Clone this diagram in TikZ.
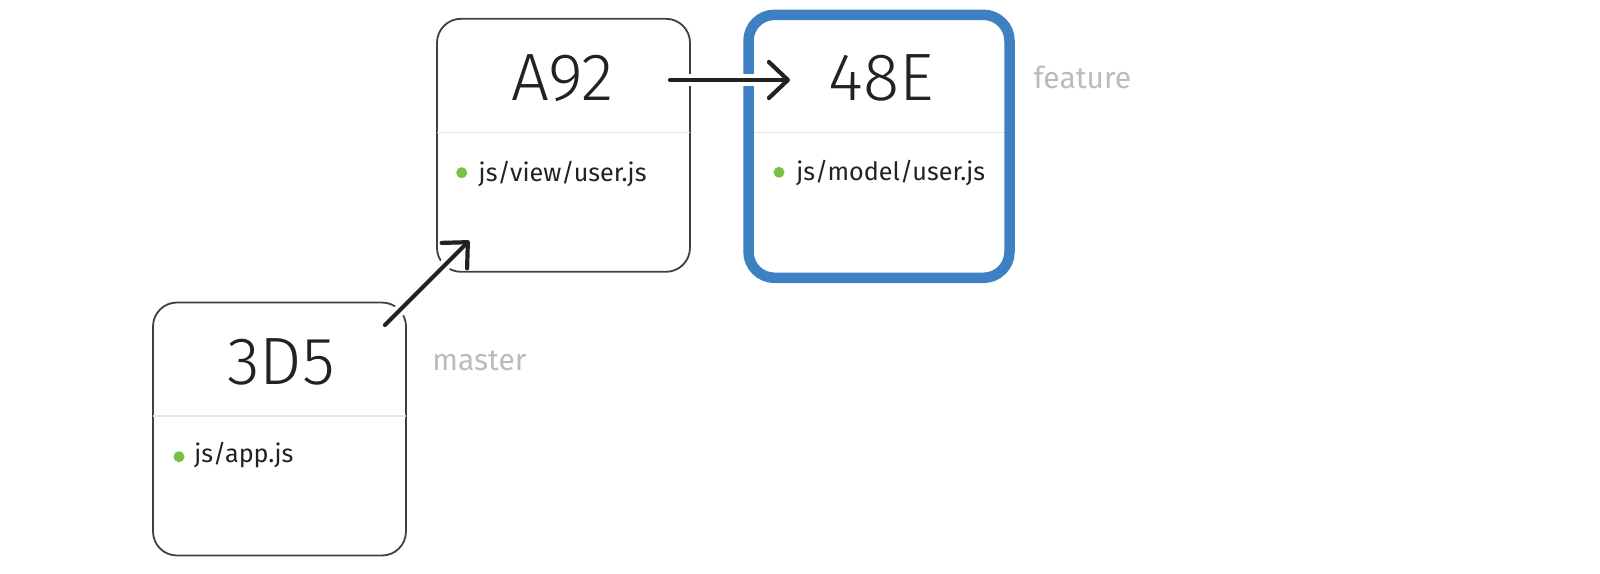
\documentclass[tikz,border=0pt]{standalone}
\usepackage{fontspec}
\setmainfont{Fira Sans}
\newfontfamily\hashfont{Fira Sans Light}
\usetikzlibrary{calc,arrows.meta}
\definecolor{edgegray}{HTML}{404040}
\definecolor{rulegray}{HTML}{E6E6E6}
\definecolor{headblue}{HTML}{3E81C2}
\definecolor{dotgreen}{HTML}{7AC143}
\definecolor{inkblack}{HTML}{222222}
\definecolor{refgray}{HTML}{BBBBBB}
\tikzset{
  commit/.style={draw=edgegray, line width=0.9pt, rounded corners=12pt,
    minimum width=126.5pt, minimum height=126.5pt, inner sep=0pt, fill=white},
  head/.style={commit, draw=headblue, line width=5.25pt, rounded corners=13pt,
    minimum width=130.5pt, minimum height=131.5pt},
  hash/.style={inner sep=0pt, text=inkblack, font=\hashfont\fontsize{33.5}{40}\selectfont},
  file/.style={anchor=base west, inner sep=0pt, text=inkblack, font=\fontsize{12.6}{15}\selectfont},
  dot/.style={circle, fill=dotgreen, inner sep=0pt, minimum size=5.5pt},
  divider/.style={draw=rulegray, line width=0.8pt},
  ref/.style={anchor=base west, inner sep=0pt, text=refgray, font=\fontsize{15}{18}\selectfont},
  halo/.style={draw=white, line width=6pt},
  link/.style={draw=inkblack, line width=2.1pt, line cap=round, line join=round,
    -{Straight Barb[length=9.5pt, width=18pt, line cap=round, line join=round]}}
}
\begin{document}
\begin{tikzpicture}[x=0.5pt, y=-0.5pt]
    \useasboundingbox (0,0) rectangle (1600,573);

    % commits
    \node (c3d5) [commit] at (279.5, 429) {};
    \node (ca92) [commit] at (563.5, 145.3) {};
    \node (c48e) [head] at (879, 146.3) {};

    \draw[divider] ($(c3d5.west)+(1,-13)$) -- ($(c3d5.east)+(-1,-13)$);
    \draw[divider] ($(ca92.west)+(1,-13)$) -- ($(ca92.east)+(-1,-13)$);
    \draw[divider] ($(c48e.west)+(10.5,-14)$) -- ($(c48e.east)+(-10.5,-14)$);

    \node (h3d5) [hash] at ($(c3d5)+(1.5,-67.5)$) {3D5};
    \node (ha92) [hash] at ($(ca92)+(-1,-67)$) {A92};
    \node (h48e) [hash] at ($(c48e)+(2.5,-68)$) {48E};

    \node (d3d5) [dot] at ($(c3d5)+(-100.5,27.7)$) {};
    \node (f3d5) [file] at ($(c3d5)+(-85.5,33.7)$) {js/app.js};
    \node (da92) [dot] at ($(ca92)+(-101.8,27.4)$) {};
    \node (fa92) [file] at ($(ca92)+(-85.2,36.4)$) {js/view/user.js};
    \node (d48e) [dot] at ($(c48e)+(-100,26)$) {};
    \node (f48e) [file] at ($(c48e)+(-83,34)$) {js/model/user.js};

    % branch names
    \node (master) [ref] at (432, 370.7) {master};
    \node (feature) [ref] at (1033.3, 88.3) {feature};

    % parent links
    \coordinate (l1s) at ($(c3d5)+(105.5,-104)$);
    \coordinate (l1e) at ($(ca92)+(-94.2,95.4)$);
    \coordinate (l2s) at ($(ca92)+(106.5,-65.3)$);
    \coordinate (l2e) at ($(c48e)+(-89,-66.3)$);

    \draw[halo] (l1s) -- (l1e);
    \draw[link] (l1s) -- (l1e);
    \draw[halo] (l2s) -- (l2e);
    \draw[link] (l2s) -- (l2e);
\end{tikzpicture}
\end{document}
